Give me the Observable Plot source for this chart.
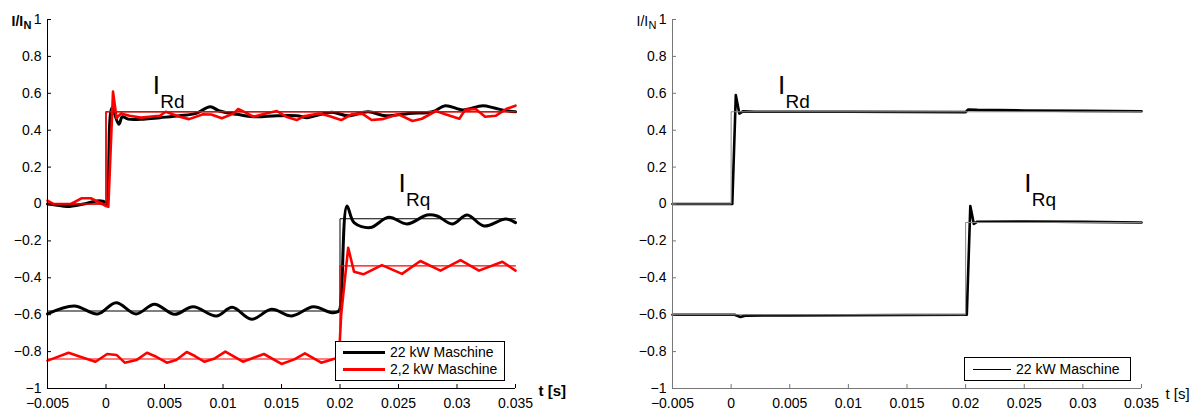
<!DOCTYPE html>
<html><head><meta charset="utf-8">
<script src="https://cdn.jsdelivr.net/npm/d3@7"></script>
<script src="https://cdn.jsdelivr.net/npm/@observablehq/plot@0.6"></script>
<style>
body{margin:0;background:#fff;font-family:"Liberation Sans",Arial,sans-serif;}
#wrap{position:relative;width:1196px;height:414px;display:flex;}
.legend{position:absolute;background:#fff;border:1px solid #000;font-size:14px;box-sizing:border-box;color:#000;}
.row{position:absolute;left:0;height:16px;display:flex;align-items:center;}
.row span.ln{display:inline-block;}
</style></head><body><div id="wrap"></div>
<script>
// ---- axes ----
const xTicks = [-0.005,0,0.005,0.01,0.015,0.02,0.025,0.03,0.035];
const yTicks = [-1,-0.8,-0.6,-0.4,-0.2,0,0.2,0.4,0.6,0.8,1];
const yLabelMain = "I/I", yLabelSub = "N", xLabel = "t [s]";
const annotations = [
  {t: 0.0043, v: 0.64, main: "I", sub: "Rd"},
  {t: 0.0253, v: 0.108, main: "I", sub: "Rq"}
];

// ---- left panel: measured (t [s], I/IN) ----
const left22Rd = [[-0.005,0.0],[-0.0043,-0.005],[-0.0033,-0.014],[-0.0019,0.0],[-0.0006,0.018],[0.0,0.008],[0.0001,0.0],[0.0005,0.52],[0.0011,0.432],[0.0014,0.473],[0.0019,0.46],[0.0032,0.46],[0.0046,0.468],[0.0063,0.478],[0.0077,0.491],[0.0089,0.527],[0.0097,0.504],[0.0112,0.486],[0.0126,0.473],[0.0146,0.478],[0.0163,0.478],[0.0172,0.468],[0.0179,0.478],[0.0193,0.497],[0.0207,0.478],[0.0224,0.5],[0.0239,0.478],[0.0259,0.491],[0.0279,0.5],[0.029,0.533],[0.0305,0.51],[0.0322,0.533],[0.0332,0.52],[0.0342,0.506],[0.035,0.5]];
const left22Rq = [[-0.005,-0.596],[-0.00272,-0.553],[-0.00071,-0.596],[0.00086,-0.535],[0.00257,-0.596],[0.00414,-0.544],[0.00586,-0.598],[0.00744,-0.557],[0.00943,-0.607],[0.01078,-0.56],[0.01244,-0.625],[0.01415,-0.571],[0.01587,-0.607],[0.01773,-0.557],[0.0193,-0.589],[0.0199,-0.58],[0.0201,-0.5],[0.0206,-0.011],[0.0212,-0.101],[0.02258,-0.128],[0.02416,-0.072],[0.02573,-0.108],[0.02744,-0.06],[0.0283,-0.065],[0.02959,-0.108],[0.03087,-0.06],[0.0323,-0.119],[0.03416,-0.081],[0.035,-0.101]];
const left2Rd = [[-0.005,0.018],[-0.0045,0.0],[-0.003,0.0],[-0.0021,0.031],[-0.0013,0.031],[-0.0003,0.0],[0.0,-0.011],[0.0002,-0.015],[0.0006,0.609],[0.0009,0.466],[0.0013,0.491],[0.002,0.478],[0.003,0.468],[0.0046,0.478],[0.0051,0.5],[0.0063,0.473],[0.0071,0.46],[0.0083,0.486],[0.009,0.485],[0.0099,0.465],[0.0109,0.49],[0.0113,0.515],[0.0119,0.497],[0.0126,0.473],[0.0134,0.486],[0.0146,0.504],[0.0154,0.473],[0.0163,0.455],[0.0169,0.475],[0.0182,0.49],[0.019,0.478],[0.0201,0.455],[0.021,0.486],[0.0219,0.49],[0.0227,0.455],[0.0236,0.46],[0.025,0.486],[0.0262,0.45],[0.027,0.462],[0.0282,0.504],[0.029,0.486],[0.0302,0.462],[0.0307,0.51],[0.0316,0.515],[0.0324,0.473],[0.0333,0.478],[0.0342,0.515],[0.035,0.533]];
const left2Rq = [[-0.005,-0.849],[-0.0047,-0.842],[-0.0032,-0.806],[-0.0022,-0.828],[-0.0009,-0.855],[0.0001,-0.813],[0.0009,-0.818],[0.0016,-0.86],[0.0026,-0.846],[0.0035,-0.806],[0.0043,-0.828],[0.0052,-0.86],[0.006,-0.846],[0.0069,-0.802],[0.0076,-0.824],[0.0084,-0.855],[0.0093,-0.837],[0.0102,-0.8],[0.0117,-0.855],[0.0135,-0.813],[0.015,-0.867],[0.0161,-0.842],[0.017,-0.809],[0.0184,-0.86],[0.0196,-0.837],[0.0199,-0.845],[0.0201,-0.6],[0.0207,-0.237],[0.0212,-0.367],[0.022,-0.381],[0.02358,-0.331],[0.0253,-0.379],[0.02687,-0.309],[0.02859,-0.361],[0.0303,-0.304],[0.03188,-0.361],[0.03388,-0.313],[0.035,-0.361]];
// ---- left panel: references ----
const leftRefRd = [[-0.005,0],[0,0],[0,0.5],[0.035,0.5]];
const left22RefRq = [[-0.005,-0.58],[0.02,-0.58],[0.02,-0.08],[0.035,-0.08]];
const left2RefRq = [[-0.005,-0.84],[0.02,-0.84],[0.02,-0.335],[0.035,-0.335]];

// ---- right panel ----
const right22Rd = [[-0.005,0],[0.0,0],[0.0001,0.0],[0.0004,0.59],[0.0007,0.49],[0.001,0.502],[0.002,0.5],[0.01,0.5],[0.02,0.498],[0.0202,0.512],[0.021,0.51],[0.025,0.507],[0.03,0.505],[0.035,0.503]];
const right22Rq = [[-0.005,-0.6],[0.0003,-0.6],[0.0008,-0.612],[0.0012,-0.605],[0.005,-0.604],[0.01,-0.603],[0.015,-0.602],[0.0201,-0.6],[0.0204,-0.011],[0.0207,-0.108],[0.021,-0.096],[0.025,-0.095],[0.03,-0.097],[0.035,-0.1]];
const rightRefRd = [[-0.005,0],[0,0],[0,0.5],[0.035,0.5]];
const rightRefRq = [[-0.005,-0.6],[0.02,-0.6],[0.02,-0.1],[0.035,-0.1]];

const legendLeft = [{label:"22 kW Maschine", color:"#000", width:3},{label:"2,2 kW Maschine", color:"#ff0000", width:3}];
const legendRight = [{label:"22 kW Maschine", color:"#000", width:1}];

const fmt = d => d === 0 ? "0" : (d < 0 ? "\u2212" : "") + String(Math.abs(d));
const FONT = '"Liberation Sans", Arial, Helvetica, sans-serif';

function panel({mL, mR, axisColor, bold, series, xlDx, xlDy}) {
  const W = 598, H = 414, mT = 19, mB = 26;
  const pw = W - mL - mR, ph = H - mT - mB;
  const fw = bold ? "bold" : "normal";
  return Plot.plot({
    width: W, height: H, marginLeft: mL, marginRight: mR, marginTop: mT, marginBottom: mB,
    style: {fontFamily: FONT, fontSize: "14px", color: "#000", background: "#fff", overflow: "visible"},
    x: {domain: [-0.005, 0.035]},
    y: {domain: [-1, 1]},
    marks: [
      ...series.map(s => Plot.line(s.data, {x: d => d[0], y: d => d[1], stroke: s.color, strokeWidth: s.width, curve: s.curve || "linear", strokeLinejoin: "round"})),
      Plot.ruleX([-0.005], {stroke: axisColor}),
      Plot.ruleY([-1], {stroke: axisColor}),
      Plot.tickY(yTicks, {y: d => d, stroke: axisColor, insetRight: pw - 4}),
      Plot.tickX(xTicks, {x: d => d, stroke: axisColor, insetTop: ph - 4}),
      Plot.axisY(yTicks, {tickSize: 0, tickPadding: 6, tickFormat: fmt, label: null}),
      Plot.axisX(xTicks, {tickSize: 0, tickPadding: 10, tickFormat: fmt, label: null}),
      Plot.text(annotations, {x: "t", y: "v", text: "main", fontSize: 26, textAnchor: "middle", lineAnchor: "middle", fill: "#000"}),
      Plot.text(annotations, {x: "t", y: "v", text: "sub", fontSize: 19, textAnchor: "start", lineAnchor: "middle", dx: 4, dy: 16, fill: "#000"}),
      Plot.text([yLabelMain], {frameAnchor: "top-left", text: d => d, textAnchor: "start", lineAnchor: "bottom", dx: -36, dy: 6, fontSize: 14, fontWeight: fw}),
      Plot.text([yLabelSub], {frameAnchor: "top-left", text: d => d, textAnchor: "start", lineAnchor: "bottom", dx: -24, dy: 9, fontSize: 11, fontWeight: fw}),
      Plot.text([xLabel], {frameAnchor: "bottom-right", text: d => d, textAnchor: "start", lineAnchor: "bottom", dx: xlDx, dy: xlDy, fontSize: 15, fontWeight: fw})
    ]
  });
}

const wrap = document.getElementById("wrap");
wrap.appendChild(panel({mL: 47, mR: 83, axisColor: "#000", bold: true, xlDx: 23, xlDy: 7, series: [
  {data: left22Rd, color: "#000", width: 3, curve: "catmull-rom"},
  {data: left22Rq, color: "#000", width: 3, curve: "catmull-rom"},
  {data: left2Rd, color: "#ff0000", width: 2.6},
  {data: left2Rq, color: "#ff0000", width: 2.6},
  {data: leftRefRd, color: "#000", width: 1},
  {data: left22RefRq, color: "#000", width: 1},
  {data: leftRefRd, color: "#ff0000", width: 1.5},
  {data: left2RefRq, color: "#ff0000", width: 1.2}
]}));
wrap.appendChild(panel({mL: 74, mR: 55, axisColor: "#777", bold: false, xlDx: 24, xlDy: 10, series: [
  {data: right22Rd, color: "#000", width: 2.6},
  {data: right22Rq, color: "#000", width: 2.6},
  {data: rightRefRd, color: "#888", width: 1},
  {data: rightRefRq, color: "#888", width: 1}
]}));

function legend(items, box, lineX, lineW, textX, rowY0, rowStep) {
  const d = document.createElement("div");
  d.className = "legend";
  Object.assign(d.style, {left: box[0] + "px", top: box[1] + "px", width: box[2] + "px", height: box[3] + "px"});
  items.forEach((it, i) => {
    const r = document.createElement("div");
    r.className = "row";
    r.style.top = (rowY0 + i * rowStep - 8) + "px";
    const ln = document.createElement("span");
    ln.className = "ln";
    Object.assign(ln.style, {position: "absolute", left: lineX + "px", width: lineW + "px", top: (8 - it.width / 2) + "px", height: it.width + "px", background: it.color});
    const tx = document.createElement("span");
    Object.assign(tx.style, {position: "absolute", left: textX + "px", whiteSpace: "nowrap", lineHeight: "16px", top: "0px"});
    tx.textContent = it.label;
    r.appendChild(ln); r.appendChild(tx);
    d.appendChild(r);
  });
  wrap.appendChild(d);
}
legend(legendLeft, [335, 341, 170, 40], 7, 42, 54, 10, 17);
legend(legendRight, [964, 357, 167, 24], 8, 38, 51, 11, 17);
</script></body></html>
